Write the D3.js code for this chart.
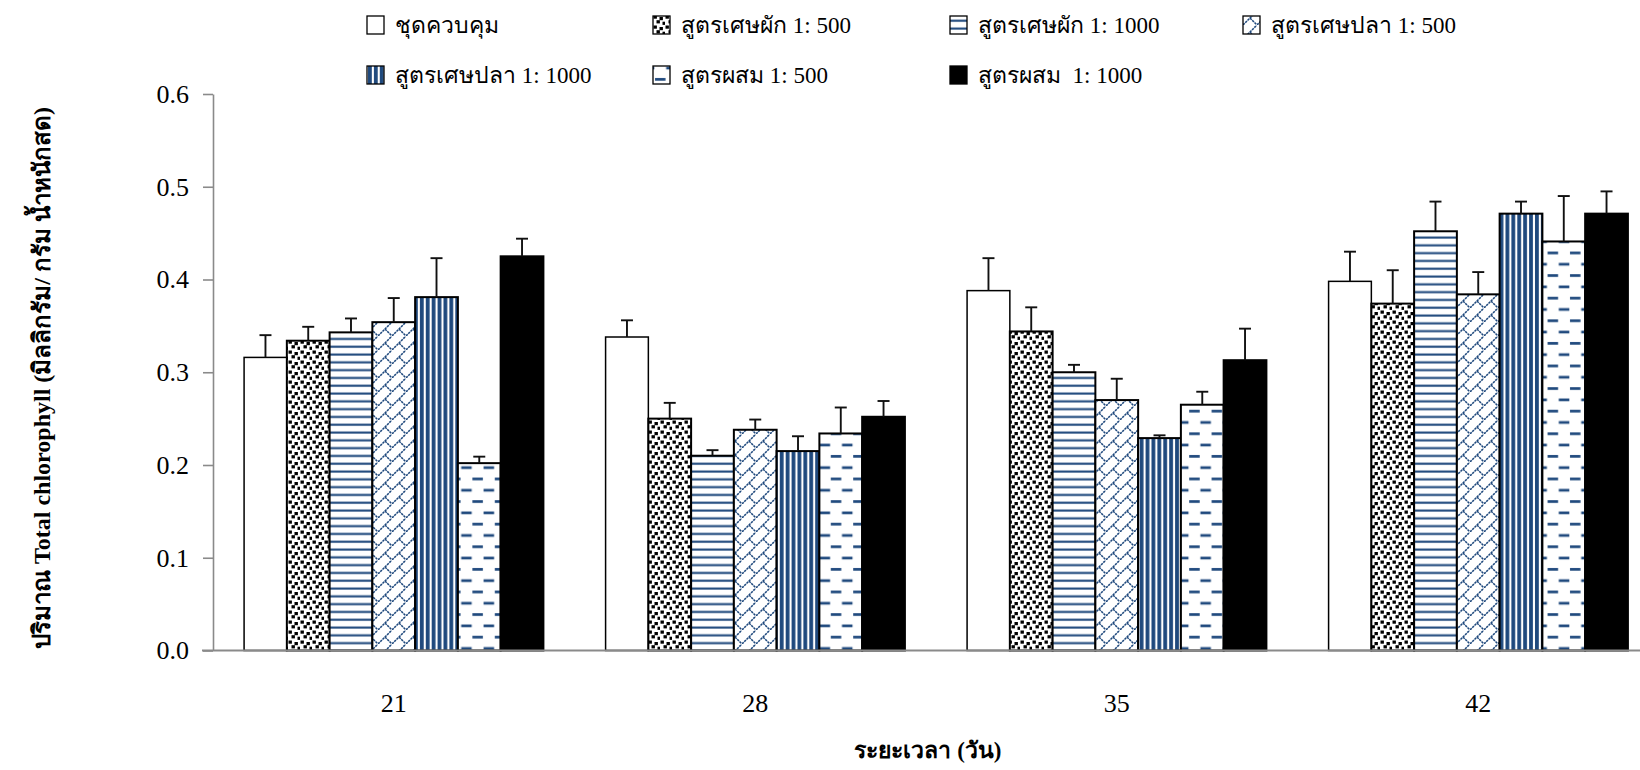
<!DOCTYPE html>
<html>
<head>
<meta charset="utf-8">
<script src="https://cdn.jsdelivr.net/npm/d3@7"></script>
<style>
  body { margin: 0; background: #fff; }
  svg text { font-family: "Liberation Serif", "Times New Roman", serif; fill: #000; }
</style>
</head>
<body>
<svg id="chart" width="1640" height="770"></svg>
<script>
// Sampling days (x categories)
const categories = ["21", "28", "35", "42"];

// Treatments, in legend / bar order
const seriesNames = [
  "ชุดควบคุม",
  "สูตรเศษผัก 1: 500",
  "สูตรเศษผัก 1: 1000",
  "สูตรเศษปลา 1: 500",
  "สูตรเศษปลา 1: 1000",
  "สูตรผสม 1: 500",
  "สูตรผสม  1: 1000"
];

// Mean total chlorophyll (mg / g fresh weight) per day
const control      = [0.316, 0.338, 0.388, 0.398];
const veg500       = [0.334, 0.250, 0.344, 0.374];
const veg1000      = [0.343, 0.210, 0.300, 0.452];
const fish500      = [0.354, 0.238, 0.270, 0.384];
const fish1000     = [0.381, 0.215, 0.229, 0.471];
const mix500       = [0.202, 0.234, 0.265, 0.441];
const mix1000      = [0.425, 0.252, 0.313, 0.471];

// Standard error (upper whisker) per day
const controlErr   = [0.024, 0.018, 0.035, 0.032];
const veg500Err    = [0.015, 0.017, 0.026, 0.036];
const veg1000Err   = [0.015, 0.006, 0.008, 0.032];
const fish500Err   = [0.026, 0.011, 0.023, 0.024];
const fish1000Err  = [0.042, 0.016, 0.003, 0.013];
const mix500Err    = [0.007, 0.028, 0.014, 0.049];
const mix1000Err   = [0.019, 0.017, 0.034, 0.024];

const yTicks = [0, 0.1, 0.2, 0.3, 0.4, 0.5, 0.6];

const seriesValues = [control, veg500, veg1000, fish500, fish1000, mix500, mix1000];
const seriesErrors = [controlErr, veg500Err, veg1000Err, fish500Err, fish1000Err, mix500Err, mix1000Err];

const NAVY = "#1f497d";
const AXIS_GREY = "#8a8a8a";

const svg = d3.select("#chart");
const defs = svg.append("defs");

// ---- fill patterns ----
function pattern(id, w, h) {
  const p = defs.append("pattern")
    .attr("id", id)
    .attr("patternUnits", "userSpaceOnUse")
    .attr("width", w).attr("height", h);
  p.append("rect").attr("width", w).attr("height", h).attr("fill", "#fff");
  return p;
}
// confetti squares
{
  const p = pattern("p-dots", 12, 10);
  [[0.5, 0.5], [6.5, 2], [3.5, 5.2], [9.5, 6.7]].forEach(([x, y]) =>
    p.append("rect").attr("x", x).attr("y", y).attr("width", 3.4).attr("height", 3.2).attr("fill", "#000"));
}
// horizontal lines
{
  const p = pattern("p-hlines", 8, 7.8);
  p.append("rect").attr("x", 0).attr("y", 2.5).attr("width", 8).attr("height", 2.1).attr("fill", NAVY);
}
// diagonal brick
{
  const s = 14;
  const p = pattern("p-brick", s, s);
  p.append("path")
    .attr("d", `M0,${s} L${s},0 M${s / 2},${s / 2} L${s},${s}`)
    .attr("stroke", NAVY).attr("stroke-width", 1.6).attr("fill", "none")
    .attr("stroke-dasharray", "2.4,0.8");
}
// vertical lines
{
  const p = pattern("p-vlines", 5.9, 8);
  p.append("rect").attr("x", 1).attr("y", 0).attr("width", 3.8).attr("height", 8).attr("fill", NAVY);
}
// staggered dashes
{
  const p = pattern("p-dash", 22.4, 22.6);
  p.append("rect").attr("x", 2).attr("y", 3).attr("width", 10.5).attr("height", 2.7).attr("fill", NAVY);
  p.append("rect").attr("x", 13.2).attr("y", 14.3).attr("width", 10.5).attr("height", 2.7).attr("fill", NAVY);
  p.append("rect").attr("x", -9.2).attr("y", 14.3).attr("width", 10.5).attr("height", 2.7).attr("fill", NAVY);
}

const fills = ["#fff", "url(#p-dots)", "url(#p-hlines)", "url(#p-brick)", "url(#p-vlines)", "url(#p-dash)", "#000"];

// ---- scales ----
const plotLeft = 213, plotRight = 1659, plotTop = 94, plotBottom = 650.5;

const y = d3.scaleLinear().domain([0, 0.6]).range([plotBottom, plotTop]);
const x0 = d3.scaleBand().domain(categories).range([plotLeft, plotRight])
  .paddingInner(0.172).paddingOuter(0.086);
const x1 = d3.scaleBand().domain(d3.range(seriesNames.length)).range([0, x0.bandwidth()]);

// ---- bars ----
const rows = [];
categories.forEach((c, i) => {
  seriesNames.forEach((s, j) => {
    rows.push({ cat: c, s: j, v: seriesValues[j][i], e: seriesErrors[j][i] });
  });
});

const bars = svg.append("g").attr("class", "bars");
bars.selectAll("rect").data(rows).join("rect")
  .attr("x", d => x0(d.cat) + x1(d.s))
  .attr("y", d => y(d.v))
  .attr("width", x1.bandwidth())
  .attr("height", d => y(0) - y(d.v))
  .attr("fill", d => fills[d.s])
  .attr("stroke", "#000")
  .attr("stroke-width", d => d.s === 0 ? 1.5 : 2);

// ---- error bars (upper only) ----
const err = svg.append("g").attr("class", "errors")
  .attr("stroke", "#111").attr("stroke-width", 1.9);
err.selectAll("line.stem").data(rows).join("line").attr("class", "stem")
  .attr("x1", d => x0(d.cat) + x1(d.s) + x1.bandwidth() / 2)
  .attr("x2", d => x0(d.cat) + x1(d.s) + x1.bandwidth() / 2)
  .attr("y1", d => y(d.v))
  .attr("y2", d => y(d.v + d.e));
err.selectAll("line.cap").data(rows).join("line").attr("class", "cap")
  .attr("x1", d => x0(d.cat) + x1(d.s) + x1.bandwidth() / 2 - 6)
  .attr("x2", d => x0(d.cat) + x1(d.s) + x1.bandwidth() / 2 + 6)
  .attr("y1", d => y(d.v + d.e))
  .attr("y2", d => y(d.v + d.e));

// ---- axes ----
const yAxis = svg.append("g").attr("transform", `translate(${plotLeft},0)`)
  .call(d3.axisLeft(y).tickValues(yTicks).tickFormat(d3.format(".1f"))
    .tickSizeInner(10).tickSizeOuter(0).tickPadding(14));
yAxis.select(".domain").attr("stroke", AXIS_GREY).attr("stroke-width", 1.6);
yAxis.selectAll(".tick line").attr("stroke", AXIS_GREY).attr("stroke-width", 1.6);
yAxis.selectAll(".tick text").attr("font-size", 26).attr("fill", "#000")
  .style("font-family", '"Liberation Serif", serif');

const xAxis = svg.append("g").attr("transform", `translate(0,${plotBottom})`)
  .call(d3.axisBottom(x0).tickSize(0).tickPadding(43));
xAxis.select(".domain").attr("stroke", AXIS_GREY).attr("stroke-width", 1.8)
  .attr("d", `M${plotLeft - 11},0H${plotRight}`);
xAxis.selectAll(".tick text").attr("font-size", 26).attr("fill", "#000")
  .style("font-family", '"Liberation Serif", serif');

// ---- axis titles ----
svg.append("text")
  .attr("x", 928).attr("y", 758)
  .attr("text-anchor", "middle")
  .attr("font-size", 23).attr("font-weight", "bold")
  .text("ระยะเวลา (วัน)");

svg.append("text")
  .attr("transform", "translate(50,378) rotate(-90)")
  .attr("text-anchor", "middle")
  .attr("font-size", 24).attr("font-weight", "bold")
  .text("ปริมาณ Total chlorophyll (มิลลิกรัม/ กรัม น้ำหนักสด)");

// ---- legend ----
const legendCols = [367, 653, 950, 1243];
const legendRows = [25, 75];
const legend = svg.append("g").attr("class", "legend");
seriesNames.forEach((name, j) => {
  const col = j < 4 ? j : j - 4;
  const row = j < 4 ? 0 : 1;
  const g = legend.append("g")
    .attr("transform", `translate(${legendCols[col]},${legendRows[row]})`);
  g.append("rect")
    .attr("x", 0).attr("y", -9).attr("width", 17).attr("height", 18)
    .attr("fill", fills[j]).attr("stroke", "#000").attr("stroke-width", 1.3);
  g.append("text")
    .attr("x", 28).attr("y", 0).attr("dy", "0.35em")
    .attr("font-size", 23)
    .style("white-space", "pre")
    .text(name);
});
</script>
</body>
</html>
